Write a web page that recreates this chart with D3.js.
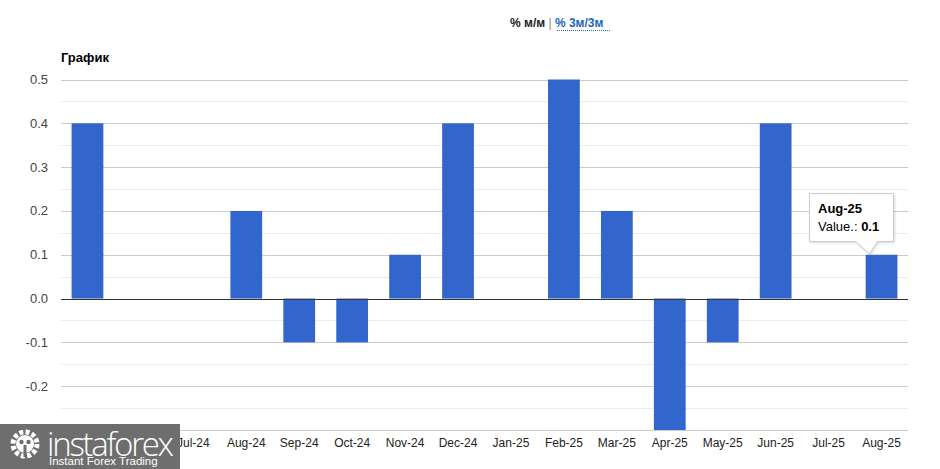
<!DOCTYPE html>
<html><head><meta charset="utf-8">
<script src="https://cdn.jsdelivr.net/npm/d3@7"></script>
<style>
body{margin:0;background:#fff;font-family:Arial,"Liberation Sans",sans-serif;}
svg{display:block;}
</style></head>
<body><svg id="c" width="940" height="469"></svg>
<script>
const categories = ["May-24","Jun-24","Jul-24","Aug-24","Sep-24","Oct-24","Nov-24","Dec-24","Jan-25","Feb-25","Mar-25","Apr-25","May-25","Jun-25","Jul-25","Aug-25"];
const values = [0.4,0,0,0.2,-0.1,-0.1,0.1,0.4,0,0.5,0.2,-0.3,-0.1,0.4,0,0.1];
const yTicks = [0.5,0.4,0.3,0.2,0.1,0.0,-0.1,-0.2];
const gridTicks = [0.5,0.45,0.4,0.35,0.3,0.25,0.2,0.15,0.1,0.05,0,-0.05,-0.1,-0.15,-0.2,-0.25,-0.3];

const svg = d3.select("#c");
const L = 61, R = 908, T = 79.5, B = 430;
const x = d3.scaleBand().domain(categories).range([L, R]).paddingInner(0.4).paddingOuter(0.2);
const y = d3.scaleLinear().domain([-0.3, 0.5]).range([B, T]);

// header
const hdr = svg.append("text").attr("x", 510).attr("y", 27).attr("font-size", 12).attr("font-weight", "bold");
hdr.append("tspan").attr("fill", "#222").text("% м/м");
hdr.append("tspan").attr("fill", "#888").attr("font-weight", "normal").text(" | ");
hdr.append("tspan").attr("fill", "#2266bb").text("% 3м/3м");
svg.append("line").attr("x1", 557).attr("x2", 610).attr("y1", 30.5).attr("y2", 30.5)
  .attr("stroke", "#2266bb").attr("stroke-dasharray", "1,1");

svg.append("text").attr("x", 61).attr("y", 62).attr("font-size", 13).attr("font-weight", "bold")
  .attr("fill", "#000").text("График");

// gridlines
svg.append("g").selectAll("line").data(gridTicks).join("line")
  .attr("x1", L).attr("x2", R)
  .attr("y1", d => Math.round(y(d)) + 0.5).attr("y2", d => Math.round(y(d)) + 0.5)
  .attr("stroke", d => Math.abs(Math.round(d * 10) - d * 10) < 1e-6 ? "#cccccc" : "#ebebeb");

// y labels
svg.append("g").selectAll("text").data(yTicks).join("text")
  .attr("x", 48).attr("y", d => y(d) + 4.5).attr("text-anchor", "end")
  .attr("font-size", 13).attr("fill", "#444").text(d => d.toFixed(1));

// bars
svg.append("g").selectAll("rect").data(values).join("rect")
  .attr("x", (d, i) => x(categories[i]))
  .attr("width", x.bandwidth())
  .attr("y", d => y(Math.max(0, d)))
  .attr("height", d => Math.abs(y(d) - y(0)))
  .attr("fill", "#3366cc");

// zero line
svg.append("line").attr("x1", L).attr("x2", R).attr("y1", Math.round(y(0)) + 0.5).attr("y2", Math.round(y(0)) + 0.5)
  .attr("stroke", "#333").attr("stroke-width", 1);

// x labels
svg.append("g").selectAll("text").data(categories).join("text")
  .attr("x", d => x(d) + x.bandwidth() / 2).attr("y", 447).attr("text-anchor", "middle")
  .attr("font-size", 12).attr("fill", "#222").text(d => d);

// tooltip
const li = categories.length - 1;
const bx = x(categories[li]) + x.bandwidth() / 2, by = y(values[li]);
const tt = svg.append("g");
tt.append("path")
  .attr("d", `M809.5,193.5 H893.5 V241.5 H${bx - 4} L${bx - 12},${by - 1} L${bx - 26},241.5 H809.5 Z`)
  .attr("fill", "#fff").attr("stroke", "#cccccc").attr("stroke-width", 1)
  .style("filter", "drop-shadow(1px 1px 1px rgba(0,0,0,0.15))");
tt.append("text").attr("x", 818).attr("y", 213).attr("font-size", 13).attr("font-weight", "bold").attr("fill", "#000").text(categories[li]);
const vt = tt.append("text").attr("x", 818).attr("y", 231).attr("font-size", 13).attr("fill", "#000");
vt.append("tspan").text("Value.: ");
vt.append("tspan").attr("font-weight", "bold").text(values[li]);

// logo
const lg = svg.append("g");
lg.append("rect").attr("x", 0).attr("y", 424).attr("width", 180).attr("height", 45).attr("fill", "#6e6e6e");
const gear = lg.append("g").attr("transform", "translate(25,444)");
gear.append("circle").attr("r", 12).attr("fill", "none").attr("stroke", "#fff").attr("stroke-width", 5).attr("stroke-dasharray", "4,2.3");
gear.append("circle").attr("r", 9).attr("fill", "#fff");
gear.append("circle").attr("cx", -3.5).attr("cy", -2).attr("r", 2.2).attr("fill", "#6e6e6e");
gear.append("circle").attr("cx", 3.5).attr("cy", -2).attr("r", 2.2).attr("fill", "#6e6e6e");
gear.append("rect").attr("x", -1.5).attr("y", 1).attr("width", 3).attr("height", 12).attr("fill", "#6e6e6e");
lg.append("text").attr("x", 47).attr("y", 456).attr("font-size", 33).attr("fill", "#fff")
  .attr("font-family", "'Open Sans', Arial, sans-serif").attr("font-weight", 300).attr("textLength", 127).text("instaforex");
lg.append("text").attr("x", 49).attr("y", 465).attr("font-size", 11.5).attr("fill", "#fff")
  .attr("font-family", "Arial, sans-serif").text("Instant Forex Trading");
</script></body></html>
